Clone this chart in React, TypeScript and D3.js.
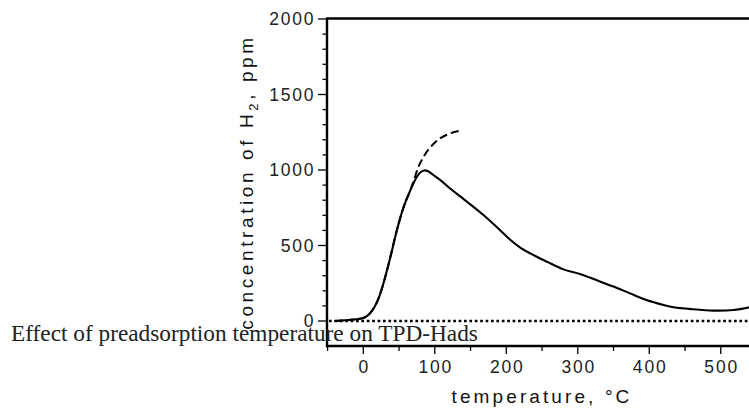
import React from "react";
import * as d3 from "d3";

const solidT = [-40, -30, -20, -10, 0, 5, 10, 15, 20, 25, 30, 35, 40, 45, 50, 55, 60, 65, 70, 75, 80, 85, 90, 98, 110, 121, 145, 168, 191, 205, 220, 240, 258, 280, 303, 326, 350, 373, 396, 420, 434, 460, 490, 518, 540];
const solidV = [0, 3, 7, 12, 20, 33, 55, 88, 135, 200, 280, 370, 465, 565, 655, 735, 800, 857, 910, 955, 985, 997, 993, 967, 925, 879, 790, 702, 603, 540, 485, 432, 390, 342, 311, 271, 228, 183, 139, 106, 91, 78, 69, 73, 91];

const dashT = [-40, -30, -20, -10, 0, 5, 10, 15, 20, 25, 30, 35, 40, 45, 50, 55, 60, 65, 71, 77, 84, 91, 98, 107, 116, 126, 135];
const dashV = [0, 3, 7, 12, 20, 33, 55, 88, 135, 200, 280, 370, 465, 565, 655, 735, 800, 857, 935, 1020, 1085, 1135, 1172, 1208, 1232, 1250, 1260];

const xMajor = [0, 100, 200, 300, 400, 500];
const xMinor = [-50, 50, 150, 250, 350, 450];
const yMajor = [0, 500, 1000, 1500, 2000];
const yMinor = [100, 200, 300, 400, 600, 700, 800, 900, 1100, 1200, 1300, 1400, 1600, 1700, 1800, 1900];

const titleText = "Effect of preadsorption temperature on TPD-Hads";
const xLabel = "temperature, °C";

export default function App() {
  const W = 749, H = 409;
  const left = 327, right = 749, top = 19, bottom = 346;
  const x = d3.scaleLinear().domain([-50.8, 539.5]).range([left, right]);
  const y = d3.scaleLinear().domain([-165.5, 2000]).range([bottom, top]);

  const line = d3
    .line<[number, number]>()
    .x((d) => x(d[0]))
    .y((d) => y(d[1]))
    .curve(d3.curveCatmullRom.alpha(0.5));

  const solid = solidT.map((t, i) => [t, solidV[i]] as [number, number]);
  const dashed = dashT.map((t, i) => [t, dashV[i]] as [number, number]);

  const sans = "'Liberation Sans', Arial, sans-serif";
  const tickFont = 17.5;
  const tickSp = 1.8;

  return (
    <svg width={W} height={H} style={{ position: "absolute", left: 0, top: 0, background: "#fff" }}>
      {/* zero dotted line */}
      <line x1={left + 2} x2={right} y1={y(0)} y2={y(0)} stroke="#000" strokeWidth={2.4} strokeDasharray="2.7,2.7" />
      {/* curves */}
      <path d={line(dashed) || ""} fill="none" stroke="#000" strokeWidth={2} strokeDasharray="8,4" />
      <path d={line(solid) || ""} fill="none" stroke="#000" strokeWidth={2.1} />
      {/* axes frame */}
      <line x1={left} x2={right} y1={top - 0.5} y2={top - 0.5} stroke="#000" strokeWidth={2.4} />
      <line x1={left} x2={left} y1={top - 1.5} y2={bottom + 1.2} stroke="#000" strokeWidth={2.4} />
      <line x1={left - 1} x2={right} y1={bottom} y2={bottom} stroke="#000" strokeWidth={2.4} />
      {/* y ticks */}
      {yMajor.map((v) => (
        <g key={"ym" + v}>
          <line x1={left - 9} x2={left} y1={y(v)} y2={y(v)} stroke="#000" strokeWidth={1.3} />
          <text
            x={313.5 + tickSp}
            y={y(v)}
            dy="0.36em"
            textAnchor="end"
            fontFamily={sans}
            fontSize={tickFont}
            letterSpacing={tickSp}
            fill="#222"
          >
            {v}
          </text>
        </g>
      ))}
      {yMinor.map((v) => (
        <line key={"yn" + v} x1={left - 4.5} x2={left} y1={y(v)} y2={y(v)} stroke="#000" strokeWidth={1.3} />
      ))}
      {/* x ticks */}
      {xMajor.map((v) => (
        <g key={"xm" + v}>
          <line x1={x(v)} x2={x(v)} y1={bottom} y2={bottom + 8} stroke="#000" strokeWidth={1.3} />
          <text
            x={x(v) + tickSp / 2}
            y={372.5}
            textAnchor="middle"
            fontFamily={sans}
            fontSize={tickFont}
            letterSpacing={tickSp}
            fill="#222"
          >
            {v}
          </text>
        </g>
      ))}
      {xMinor.map((v) => (
        <line key={"xn" + v} x1={x(v)} x2={x(v)} y1={bottom} y2={bottom + 5} stroke="#000" strokeWidth={1.3} />
      ))}
      {/* axis labels */}
      <text x={542} y={403} textAnchor="middle" fontFamily={sans} fontSize={19} letterSpacing={3.1} fill="#111">
        {xLabel}
      </text>
      <text
        transform={`translate(253, 182) rotate(-90)`}
        textAnchor="middle"
        fontFamily={sans}
        fontSize={19}
        letterSpacing={3.6}
        fill="#111"
      >
        concentration of H<tspan fontSize={13} dy={5}>2</tspan>
        <tspan dy={-5}>, ppm</tspan>
      </text>
      {/* title */}
      <text x={11} y={341} fontFamily="'Liberation Serif', 'Times New Roman', serif" fontSize={23.3} fill="#222">
        {titleText}
      </text>
    </svg>
  );
}
